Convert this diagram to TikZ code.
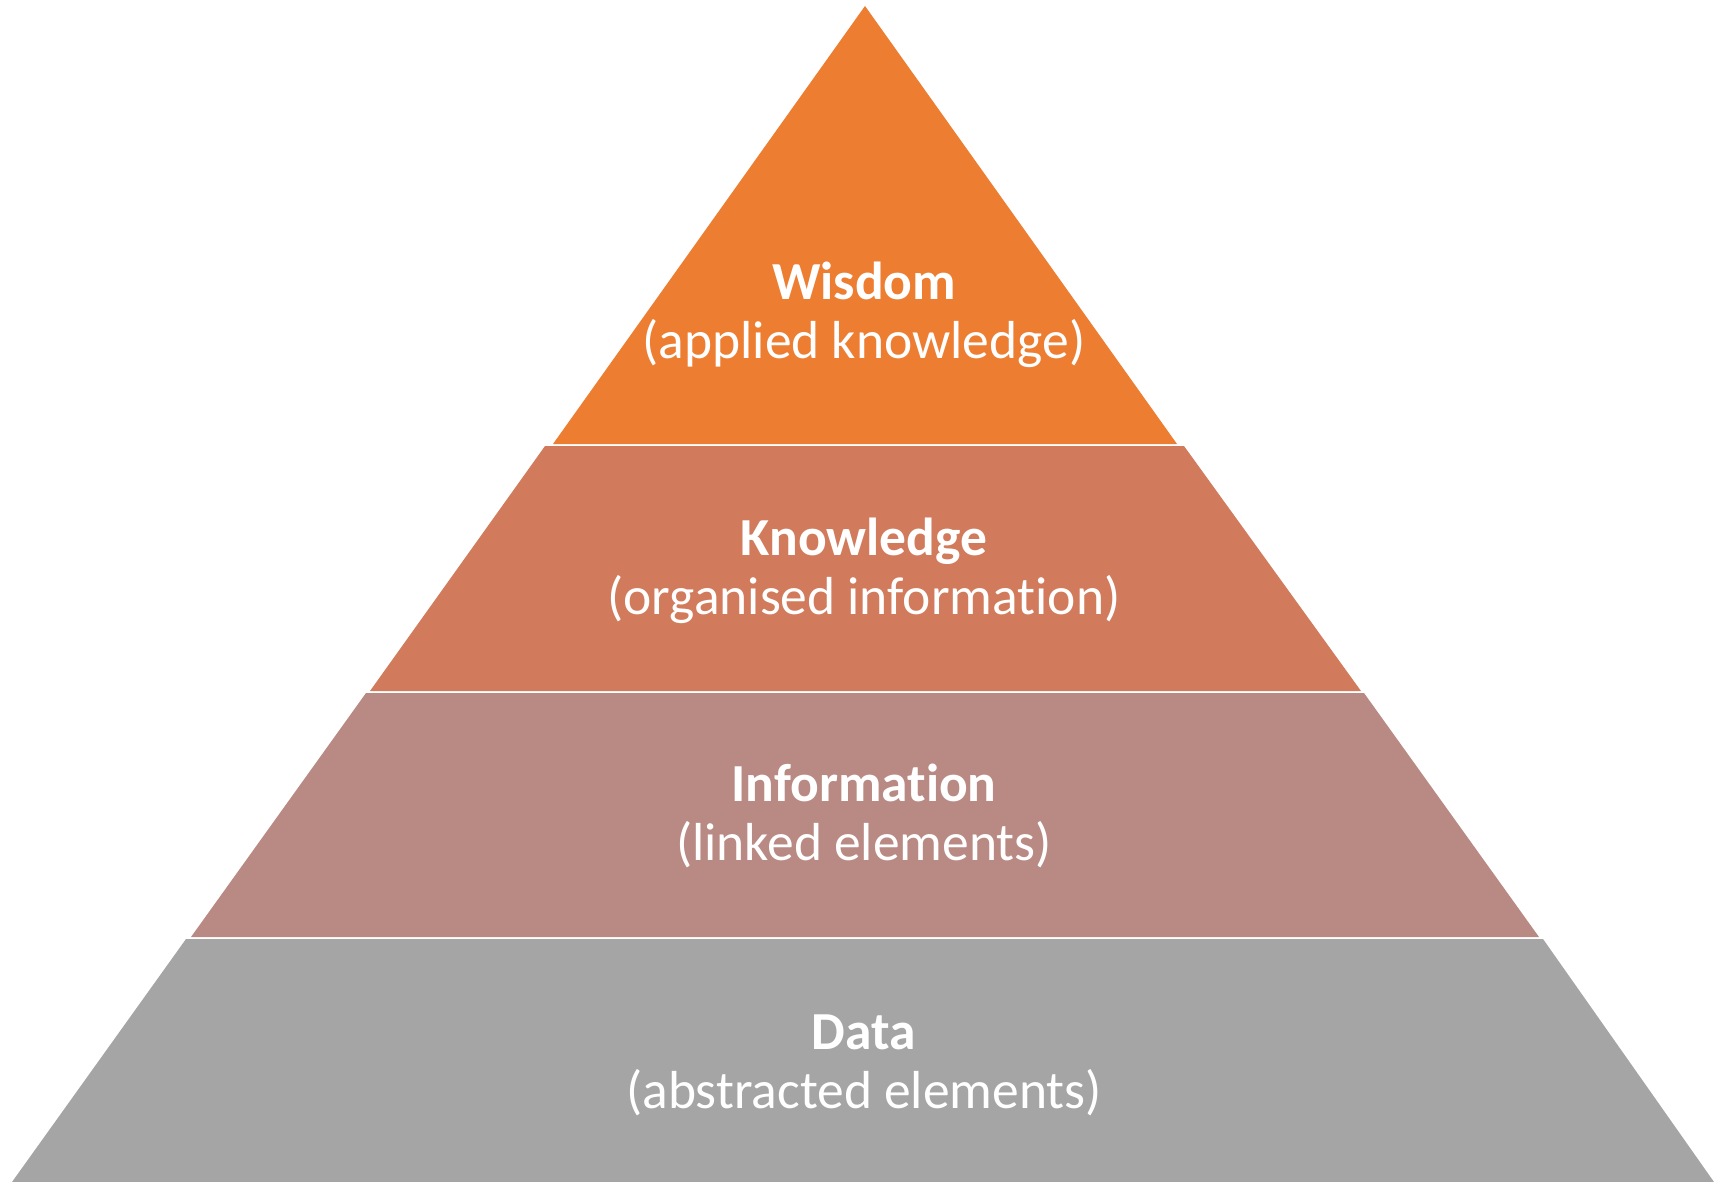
\documentclass[tikz,border=0pt]{standalone}
\usepackage{fontspec}
\setmainfont{Carlito}[RawFeature={-liga}]
\definecolor{cwis}{HTML}{ED7D31}
\definecolor{ckno}{HTML}{D17B5C}
\definecolor{cinf}{HTML}{B98A83}
\definecolor{cdat}{HTML}{A5A5A5}
\tikzset{
  title/.style={anchor=base, text=white, inner sep=0pt, font=\fontsize{53.5}{56}\selectfont\bfseries},
  sub/.style={anchor=base, text=white, inner sep=0pt, font=\fontsize{53.5}{56}\selectfont},
}
\begin{document}
\begin{tikzpicture}[x=1pt,y=-1pt]
\useasboundingbox (0,0) rectangle (1714,1182);
\fill[white] (0,0) rectangle (1714,1182);
% bands
\fill[cwis] (865,6) -- (1177,444) -- (553,444) -- cycle;
\fill[ckno] (545,446) -- (1184,446) -- (1361,691) -- (370,691) -- cycle;
\fill[cinf] (366,693) -- (1364,693) -- (1539,937) -- (191,937) -- cycle;
\fill[cdat] (186,939) -- (1543,939) -- (1714,1182) -- (12,1182) -- cycle;
% texts
\node[title] (wt) at (864,300) {Wisdom};
\node[sub]   (ws) at (864,359) {(applied knowledge)};
\node[title] (kt) at (864,555) {Knowledge};
\node[sub]   (ks) at (864,614) {(organised information)};
\node[title] (it) at (864,801) {Information};
\node[sub]   (is) at (864,860) {(linked elements)};
\node[title] (dt) at (864,1049) {Data};
\node[sub]   (ds) at (864,1108) {(abstracted elements)};
\end{tikzpicture}
\end{document}
